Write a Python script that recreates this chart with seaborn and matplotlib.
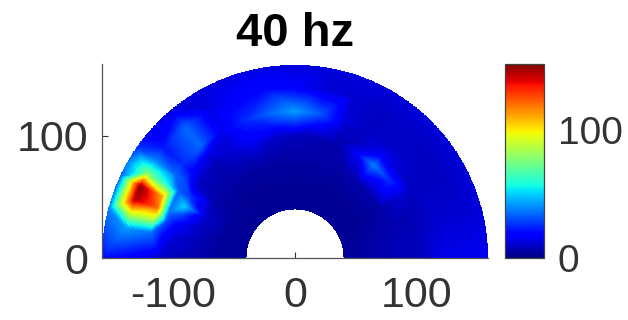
import numpy as np
import matplotlib
matplotlib.use("Agg")
import matplotlib.pyplot as plt
import matplotlib.tri as mtri
import seaborn as sns

# angle from left (180 deg) to right (0 deg), one value per ring
angles = [180, 170, 165, 160, 155, 150, 145, 140, 130, 120, 110, 100, 90, 80, 70, 60, 50, 40, 30, 20, 10, 0]
radii = [40, 60, 80, 100, 110, 120, 140, 158]

ring40 = [3, 3, 3, 3, 3, 3, 3, 3, 3, 3, 3, 3, 3, 3, 3, 3, 3, 3, 3, 3, 3, 3]
ring60 = [4, 4, 4, 4, 4, 4, 4, 4, 3, 3, 3, 3, 3, 3, 3, 3, 3, 3, 3, 4, 5, 5]
ring80 = [6, 7, 8, 9, 10, 8, 6, 5, 5, 5, 5, 5, 5, 5, 5, 5, 6, 6, 5, 6, 7, 7]
ring100 = [8, 12, 16, 28, 50, 28, 12, 9, 7, 11, 15, 10, 8, 7, 6, 16, 38, 26, 11, 7, 8, 8]
ring110 = [10, 20, 28, 36, 36, 32, 30, 18, 13, 12, 20, 22, 26, 18, 9, 9, 16, 11, 9, 9, 10, 10]
ring120 = [13, 36, 84, 120, 110, 56, 34, 25, 34, 15, 25, 34, 42, 32, 12, 9, 10, 10, 9, 10, 12, 14]
ring140 = [18, 42, 90, 145, 150, 74, 38, 22, 34, 13, 17, 20, 17, 12, 11, 9, 10, 9, 9, 10, 12, 15]
ring158 = [20, 32, 38, 38, 35, 38, 26, 17, 13, 12, 13, 13, 12, 12, 12, 12, 12, 12, 12, 12, 13, 16]

tick_x = [-100, 0, 100]
tick_y = [0, 100]
tick_cbar = [0, 100]
title = "40 hz"

sns.set_style("ticks")
plt.rcParams['font.family'] = ['Liberation Sans', 'DejaVu Sans']
plt.rcParams['axes.unicode_minus'] = False
ink = '#333333'

vals = np.array([ring40, ring60, ring80, ring100, ring110, ring120, ring140, ring158], dtype=float)
th, rr = np.meshgrid(angles, radii)

# linear shading between the rings, done on a fine polar mesh so the arcs stay round
tri = mtri.Triangulation(th.ravel(), rr.ravel())
shade = mtri.LinearTriInterpolator(tri, vals.ravel())
th_f, rr_f = np.meshgrid(np.linspace(0.01, 179.99, 600), np.linspace(40.01, 157.99, 240))
vals_f = shade(th_f, rr_f)
X = rr_f * np.cos(np.deg2rad(th_f))
Y = rr_f * np.sin(np.deg2rad(th_f))

fig = plt.figure(figsize=(6.28, 3.2), dpi=100)
ax = fig.add_axes([102 / 628, 62 / 320, 386 / 628, 194 / 320])
mesh = ax.pcolormesh(X, Y, vals_f, shading='nearest', cmap="jet", vmin=0, vmax=151, rasterized=True)

ax.set_xlim(-158.2, 158.2)
ax.set_ylim(0, 159)
ax.set_xticks(tick_x)
ax.set_yticks(tick_y)
ax.tick_params(axis='x', direction='in', length=4, width=0.8, color=ink, labelcolor=ink, labelsize=31, pad=13)
ax.tick_params(axis='y', direction='in', length=4, width=0.8, color=ink, labelcolor=ink, labelsize=31, pad=10)
ax.set_title(title, fontsize=34, fontweight='bold', color='black', pad=13)
sns.despine(ax=ax)
for s in ['left', 'bottom']:
    ax.spines[s].set_color('#555555')
    ax.spines[s].set_linewidth(0.9)

cax = fig.add_axes([505 / 628, 62 / 320, 39 / 628, 194 / 320])
cb = fig.colorbar(mesh, cax=cax, ticks=tick_cbar)
cb.ax.tick_params(direction='in', length=2, width=0.8, color=ink, labelcolor=ink, labelsize=28, pad=10)
cb.outline.set_edgecolor('#444444')
cb.outline.set_linewidth(0.9)

fig.savefig("out.png", dpi=100)
